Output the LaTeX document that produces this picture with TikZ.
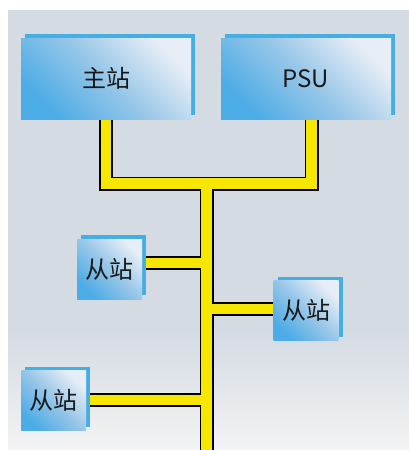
\documentclass[tikz,border=0pt]{standalone}
\usepackage{fontspec}
\setmainfont{Noto Sans CJK SC}
\usetikzlibrary{shadows,backgrounds}

\definecolor{bgtop}{RGB}{212,219,227}
\definecolor{bgbottom}{RGB}{243,243,243}
\definecolor{boxdark}{RGB}{76,172,230}
\definecolor{boxmid}{RGB}{150,198,232}
\definecolor{boxlight}{RGB}{232,238,247}
\definecolor{boxshadow}{RGB}{69,174,227}
\definecolor{busyellow}{RGB}{247,230,0}

\begin{document}
\begin{tikzpicture}[x=1pt,y=-1pt,
    station/.style={inner sep=0pt, draw=none, text=black!90,
        shading=axis, bottom color=boxdark, top color=boxlight,
        middle color=boxmid, shading angle=-45,
        general shadow={fill=boxshadow, shadow xshift=4pt, shadow yshift=4pt},
        font=\fontsize{24}{26}\selectfont},
    master/.style={station, minimum width=170pt, minimum height=81pt},
    slave/.style={station, minimum width=65pt, minimum height=60pt},
    busout/.style={line width=14pt, draw=black, line join=miter},
    busin/.style={line width=10.5pt, draw=busyellow, line join=miter}]

        \useasboundingbox (0,0) rectangle (409,450);

        % stations
        \node[master] (main) at (106,78.5) {主站};
        \node[master] (psu) at (306,78.5) {PSU};
        \node[slave] (s1) at (109.5,269) {从站};
        \node[slave] (s2) at (306,310.5) {从站};
        \node[slave] (s3) at (53.5,400.5) {从站};

        % junction points of the bus
        \coordinate (top) at (206.5,183.5);
        \coordinate (bottom) at (206.5,458);
        \coordinate (b1) at ([yshift=6pt]s1.east);
        \coordinate (b2) at ([yshift=1.5pt]s2.west);
        \coordinate (b3) at ([yshift=0.5pt]s3.east);
        \coordinate (p) at ([xshift=5.5pt]psu.south);

        \begin{scope}[on background layer]
        % panel
        \fill[bgtop] (8,10) rectangle (409,330);
        \shade[top color=bgtop, bottom color=bgbottom] (8,330) rectangle (409,450);

        % bus: black edge first, then yellow core
        \foreach \bus in {busout,busin} {
            \draw[\bus] (main.south) |- (top) -| (p);
            \draw[\bus] (top) -- (bottom);
            \draw[\bus] (b1) -- (b1 -| top);
            \draw[\bus] (b2) -- (b2 -| top);
            \draw[\bus] (b3) -- (b3 -| top);
        }
        \end{scope}

\end{tikzpicture}
\end{document}
